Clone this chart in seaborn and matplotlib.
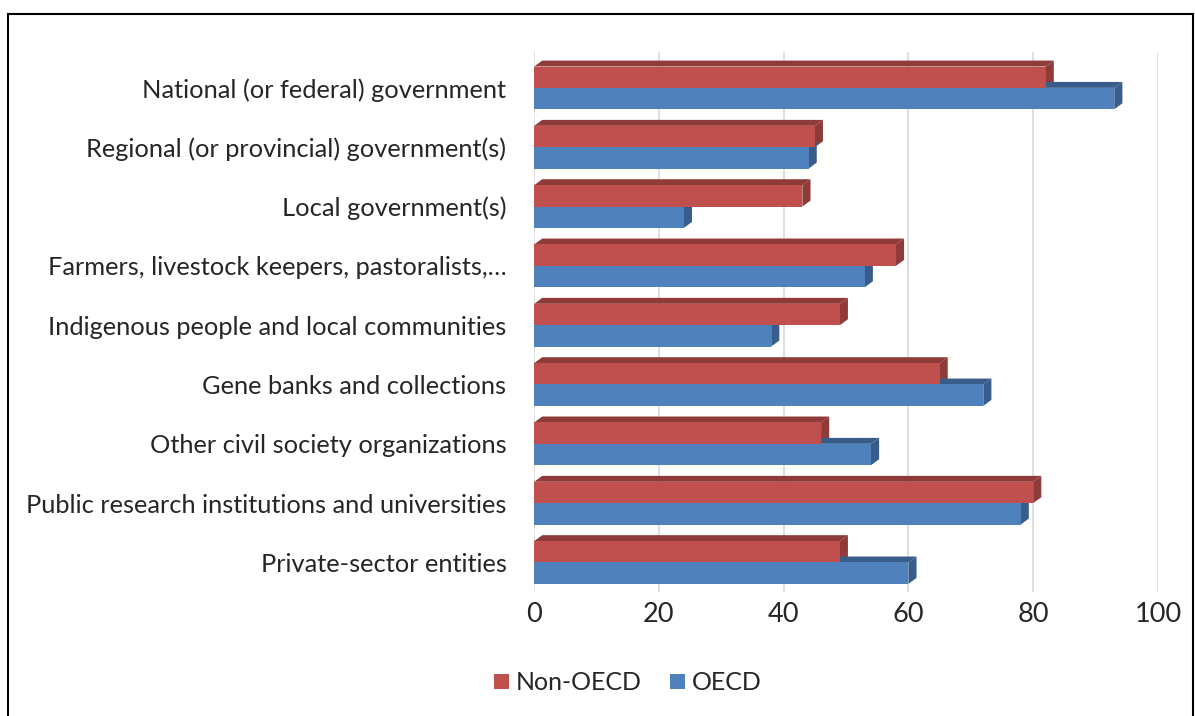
import matplotlib
matplotlib.use("Agg")
import matplotlib.pyplot as plt
from matplotlib.patches import Polygon, Rectangle
import numpy as np
import pandas as pd
import seaborn as sns

categories = [
    "National (or federal) government",
    "Regional (or provincial) government(s)",
    "Local government(s)",
    "Farmers, livestock keepers, pastoralists,\u2026",
    "Indigenous people and local communities",
    "Gene banks and collections",
    "Other civil society organizations",
    "Public research institutions and universities",
    "Private-sector entities",
]
non_oecd = [82, 45, 43, 58, 49, 65, 46, 80, 49]
oecd = [93, 44, 24, 53, 38, 72, 54, 78, 60]
series = ["Non-OECD", "OECD"]
front = {"Non-OECD": "#C0504D", "OECD": "#4F81BD"}
shade = {"Non-OECD": "#8E3B39", "OECD": "#385D8A"}

sns.set_theme(style="white")
plt.rcParams["font.family"] = ["Lato", "DejaVu Sans"]

df = pd.DataFrame({
    "category": categories * 2,
    "value": non_oecd + oecd,
    "series": ["Non-OECD"] * len(categories) + ["OECD"] * len(categories),
})

fig = plt.figure(figsize=(11.95, 7.16), dpi=100)
ax = fig.add_axes([0.447, 0.173, 0.522, 0.754])
sns.barplot(data=df, x="value", y="category", hue="series", hue_order=series,
            palette=front, orient="h", width=0.72, saturation=1, ax=ax, zorder=3,
            edgecolor="none", linewidth=0)

# fake Excel-style 3D: darker top and right faces from each bar
dx, dy = 1.3, 0.1
for cont, name in zip(ax.containers, series):
    for bar in cont:
        x0, y0 = bar.get_x(), bar.get_y()
        w, h = bar.get_width(), bar.get_height()
        x1, yb = x0 + w, y0 + h
        top = Polygon([(x0, y0), (x0 + dx, y0 - dy), (x1 + dx, y0 - dy), (x1, y0)],
                      closed=True, fc=shade[name], ec="none", zorder=2)
        side = Polygon([(x1, y0), (x1 + dx, y0 - dy), (x1 + dx, yb - dy), (x1, yb)],
                       closed=True, fc=shade[name], ec="none", zorder=2)
        ax.add_patch(top)
        ax.add_patch(side)

ax.set_xlim(0, 100)
ax.set_ylim(len(categories) - 0.5, -0.6)
ax.set_xticks(np.arange(0, 101, 20))
ax.xaxis.grid(True, color="#D9D9D9", lw=1.2)
ax.set_axisbelow(True)
for s in ax.spines.values():
    s.set_visible(False)
ax.set_xlabel("")
ax.set_ylabel("")
ax.tick_params(axis="x", labelsize=19.5, pad=7, length=0)
ax.tick_params(axis="y", labelsize=18.3, pad=20, length=0)

ax.legend(loc="upper center", bbox_to_anchor=(0.15, -0.105), ncol=2, frameon=False,
          fontsize=18, handlelength=0.6, handleheight=0.6, handletextpad=0.3,
          columnspacing=1.1)

fig.patches.append(Rectangle((0.0067, -0.01), 0.992, 0.99, transform=fig.transFigure,
                             fill=False, ec="black", lw=1.5))
fig.savefig("out.png", dpi=100, facecolor="white")
